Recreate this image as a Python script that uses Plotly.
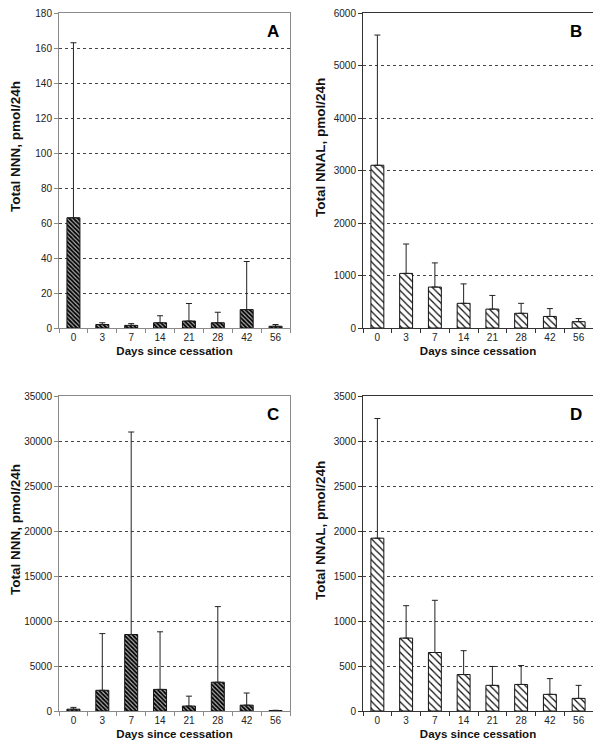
import plotly.graph_objects as go

days = ["0", "3", "7", "14", "21", "28", "42", "56"]

nnn_a = [63, 2, 1.5, 3, 4, 3, 10.5, 1]
nnn_a_err = [100, 1, 1, 4, 10, 6, 27.5, 1]

nnal_b = [3100, 1040, 780, 470, 360, 280, 220, 120]
nnal_b_err = [2480, 560, 460, 370, 260, 190, 150, 60]

nnn_c = [200, 2300, 8500, 2400, 550, 3200, 650, 50]
nnn_c_err = [200, 6300, 22500, 6400, 1100, 8400, 1350, 30]

nnal_d = [1920, 810, 650, 405, 285, 295, 185, 140]
nnal_d_err = [1330, 360, 580, 265, 210, 210, 175, 145]

panels = [
    ("A", nnn_a, nnn_a_err, "Total NNN, pmol/24h", 180, 20, "dark"),
    ("B", nnal_b, nnal_b_err, "Total NNAL, pmol/24h", 6000, 1000, "light"),
    ("C", nnn_c, nnn_c_err, "Total NNN, pmol/24h", 35000, 5000, "dark"),
    ("D", nnal_d, nnal_d_err, "Total NNAL, pmol/24h", 3500, 500, "light"),
]

W, H = 601, 749
OFF = 8  # page body margin
xdoms = [((59 - OFF) / W, (290 - OFF) / W), ((363 - OFF) / W, (593 - OFF) / W)]
ydoms = [((H - (328 - OFF)) / H, (H - (13 - OFF)) / H),
         ((H - (711 - OFF)) / H, (H - (396 - OFF)) / H)]
# y-title centres (screen px)
ytitle_pos = [(15, 147), (320, 148), (16, 530), (320, 531)]

fig = go.Figure()
font = "Liberation Sans, Arial, sans-serif"

for i, (letter, vals, errs, ytitle, ymax, dtick, style) in enumerate(panels):
    n = i + 1
    s = "" if n == 1 else str(n)
    xd = xdoms[i % 2]
    yd = ydoms[i // 2]
    if style == "dark":
        pattern = dict(shape="\\", size=3, solidity=0.6, fgcolor="#000", bgcolor="#b0b0b0", fillmode="replace")
        axcol = "#8a8a8a"
    else:
        pattern = dict(shape="\\", size=5, solidity=0.25, fgcolor="#111", bgcolor="white", fillmode="replace")
        axcol = "#333333"
    fig.add_trace(go.Bar(
        x=days, y=vals,
        xaxis=f"x{s}", yaxis=f"y{s}",
        width=0.45,
        marker=dict(color="white", line=dict(color="#111", width=1), pattern=pattern),
        error_y=dict(type="data", symmetric=False, array=errs, arrayminus=[0] * len(errs),
                     color="#222", thickness=1, width=3),
        showlegend=False,
    ))
    xa = dict(
        domain=list(xd), anchor=f"y{s}", type="category", range=[-0.5, 7.5],
        automargin=False,
        showline=True, linecolor=axcol, linewidth=1, mirror=True,
        ticks="outside", tickson="boundaries", ticklen=4, tickcolor=axcol,
        showgrid=False,
        tickfont=dict(family=font, size=10, color="#222"),
        title=dict(text="<b>Days since cessation</b>", font=dict(family=font, size=11.5, color="#111"), standoff=4),
    )
    ya = dict(
        domain=list(yd), anchor=f"x{s}", range=[0, ymax], dtick=dtick, tick0=0,
        tickformat="d", automargin=False, ticklabeloverflow="allow",
        showline=True, linecolor=axcol, linewidth=1, mirror=True,
        ticks="outside", ticklen=4, tickcolor=axcol,
        showgrid=True, gridcolor="#444", griddash="dot", gridwidth=1,
        zeroline=False,
        tickfont=dict(family=font, size=10, color="#222"),
    )
    fig.update_layout(**{f"xaxis{s}": xa, f"yaxis{s}": ya})
    tx, ty = ytitle_pos[i]
    fig.add_annotation(
        text=f"<b>{ytitle}</b>", xref="paper", yref="paper",
        x=(tx - OFF) / W, y=(H - (ty - OFF)) / H, xanchor="center", yanchor="middle",
        textangle=-90, showarrow=False,
        font=dict(family=font, size=13.5, color="#111"),
    )
    fig.add_annotation(
        text=f"<b>{letter}</b>", xref=f"x{s} domain", yref=f"y{s} domain",
        x=0.96, y=0.942, xanchor="right", yanchor="middle", showarrow=False,
        font=dict(family=font, size=17, color="black"),
    )

fig.update_layout(
    width=W, height=H,
    margin=dict(l=0, r=0, t=0, b=0),
    plot_bgcolor="white", paper_bgcolor="white",
    bargap=0.55,
)

fig.write_html("out.html")
